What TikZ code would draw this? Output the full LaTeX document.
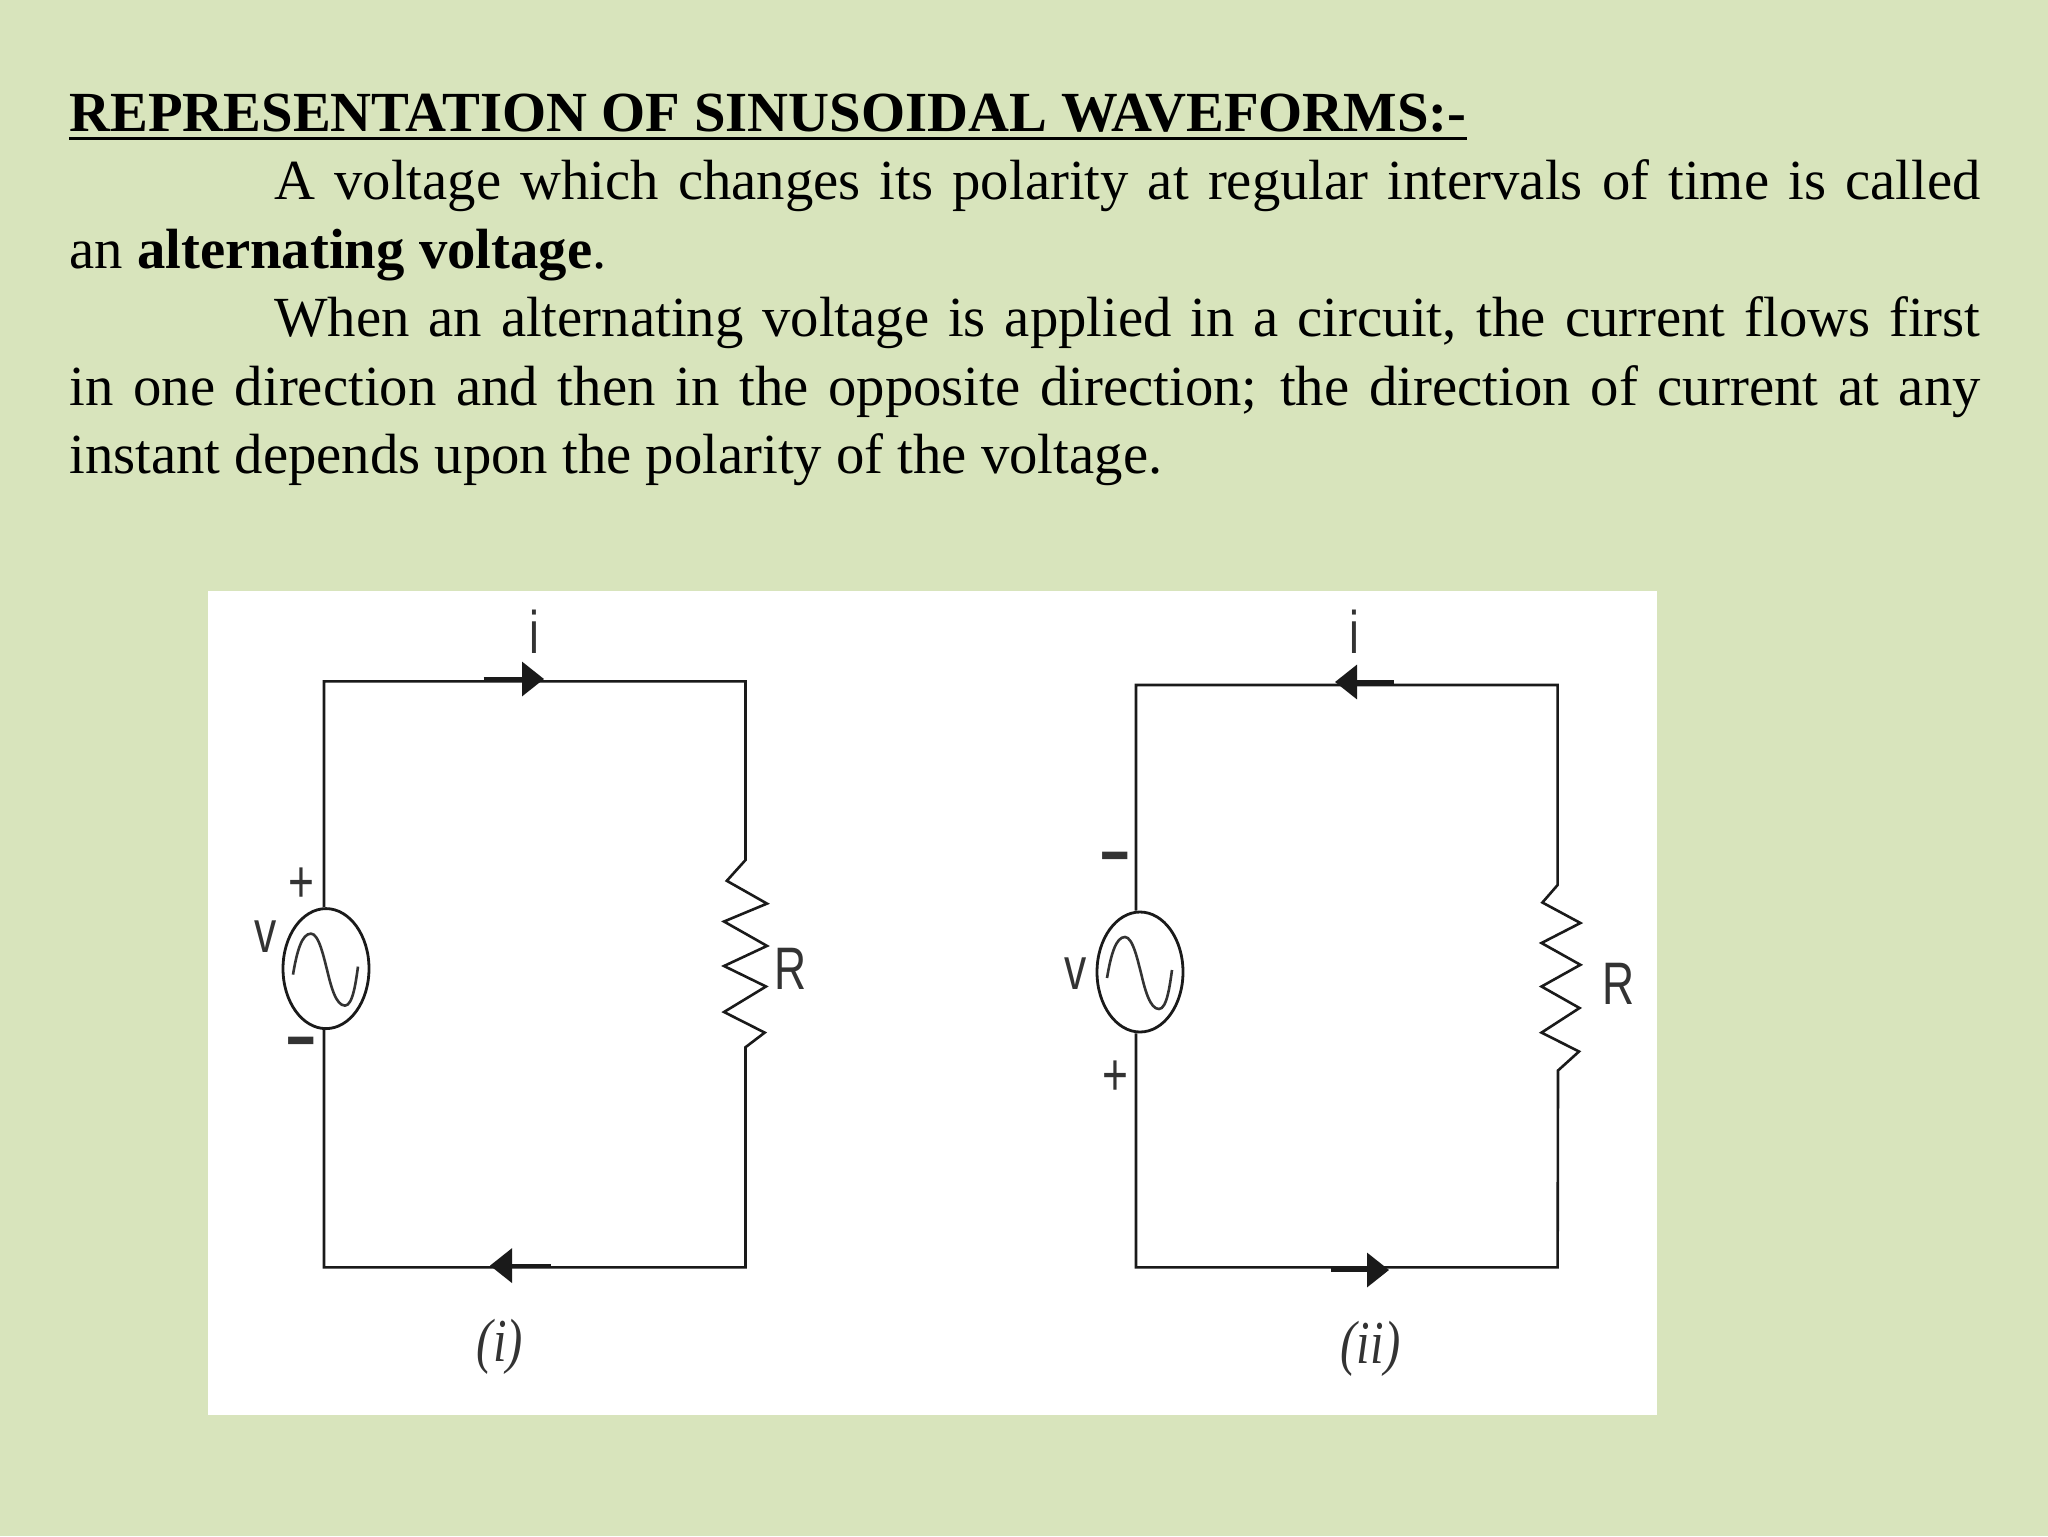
\documentclass[tikz,border=0pt]{standalone}
\usepackage{fontspec}
\setmainfont{Liberation Serif}
\newfontfamily\labelfont[FakeStretch=0.74]{Liberation Sans}
\newfontfamily\capfont[FakeStretch=0.8]{Liberation Serif}
\usetikzlibrary{arrows.meta}
\usetikzlibrary{shapes.geometric}
\definecolor{slidebg}{HTML}{D8E4BC}
\definecolor{wirecol}{HTML}{1A1A1A}
\definecolor{labelcol}{HTML}{333333}
\tikzset{
    wire/.style={draw=wirecol, line width=1.3pt},
    wave/.style={draw=labelcol, line width=1.3pt},
    source/.style={ellipse, draw=wirecol, line width=1.4pt, inner sep=0pt, minimum width=43pt, minimum height=60pt},
    flow/.style={draw=wirecol, line width=1.8pt, -{Triangle[length=11pt,width=17pt]}},
    lab/.style={inner sep=0pt, text=labelcol, font=\labelfont\fontsize{30}{32}\selectfont},
    sign/.style={inner sep=0pt, text=labelcol, font=\labelfont\bfseries\fontsize{34}{34}\selectfont},
    captext/.style={inner sep=0pt, text=labelcol, font=\capfont\itshape\fontsize{30.5}{34}\selectfont},
    titlerule/.style={draw=black, line width=1.4pt},
}
\newcommand{\acwave}[1]{
    \draw[wave, shift={(#1.center)}] (-33,6) .. controls (-29,-18) and (-24,-35) .. (-15,-35)
        .. controls (-7,-35) and (-2,-10) .. (1,1)
        .. controls (5,18) and (10,37) .. (19,37)
        .. controls (27,37) and (30,12) .. (32,-2);
}
\begin{document}
\begin{tikzpicture}[x=0.5pt, y=-0.5pt]
    \fill[slidebg] (0,0) rectangle (2048,1536);
    \fill[white] (208,591) rectangle (1657,1415);

    \node[anchor=base west, inner sep=0pt, font=\bfseries\fontsize{28.35}{34.2}\selectfont] (title) at (69,132)
        {REPRESENTATION OF SINUSOIDAL WAVEFORMS:-};
    \draw[titlerule] ([yshift=-3.4pt]title.base west) -- ([yshift=-3.4pt]title.base east);
    \node[anchor=north west, inner sep=0pt, text width=955.5pt, align=justify,
          font=\fontsize{28.35}{34.2}\selectfont] (body) at (69,159.5)
        {\hspace*{102.5pt}A voltage which changes its polarity at regular intervals of time is called
        \linebreak an \textbf{alternating voltage}.\par
        \hspace*{102.5pt}When an alternating voltage is applied in a circuit, the current flows first
        \linebreak in one direction and then in the opposite direction; the direction of current at any
        \linebreak instant depends upon the polarity of the voltage.\par};

    % circuit (i)
    \node[source] (srcA) at (326,968.6) {};
    \acwave{srcA}
    \coordinate (tlA) at (324,681.4);
    \coordinate (trA) at (745.5,681.4);
    \coordinate (brA) at (745.5,1267.3);
    \coordinate (blA) at (324,1267.3);
    \draw[wire] (tlA |- srcA.north) -- (tlA) -- (trA) -- (745.5,860) -- (726.8,880.8)
        -- (767,903.6) -- (724,921.5) -- (767,945.9) -- (724,966) -- (766,986.5) -- (724,1012)
        -- (764.7,1032.6) -- (745.5,1047.2) -- (brA) -- (blA) -- (blA |- srcA.south);
    \draw[flow] (483.5,679) -- (544,679);
    \draw[flow] (551,1265.6) -- (490,1265.6);
    \node[lab] (iA) at (534,632) {i};
    \node[lab] (plusA) at (301,885) {+};
    \node[sign] (minusA) at (301,1050) {−};
    \node[lab] (vA) at (266,937) {v};
    \node[lab] (rA) at (791,968.6) {R};
    \node[captext] (capA) at (500,1347) {(i)};

    % circuit (ii)
    \node[source] (srcB) at (1140,972) {};
    \acwave{srcB}
    \coordinate (tlB) at (1136,685);
    \coordinate (trB) at (1557.6,685);
    \coordinate (brB) at (1557.6,1267.3);
    \coordinate (blB) at (1136,1267.3);
    \draw[wire] (tlB |- srcB.north) -- (tlB) -- (trB) -- (1557.6,885) -- (1542.4,902.5)
        -- (1580.4,923) -- (1541.5,943) -- (1580.4,964.8) -- (1541.5,986.5) -- (1579.5,1008) -- (1541.5,1032.6)
        -- (1579,1051.5) -- (1558,1070.5) -- (brB) -- (blB) -- (blB |- srcB.south);
    \draw[flow] (1394,682) -- (1335,682);
    \draw[flow] (1331,1270) -- (1389,1270);
    \node[lab] (iB) at (1354,632) {i};
    \node[sign] (minusB) at (1115,865.5) {−};
    \node[lab] (plusB) at (1115,1078) {+};
    \node[lab] (vB) at (1076,974) {v};
    \node[lab] (rB) at (1619,984) {R};
    \node[captext] (capB) at (1370.5,1348.6) {(ii)};
\end{tikzpicture}
\end{document}
